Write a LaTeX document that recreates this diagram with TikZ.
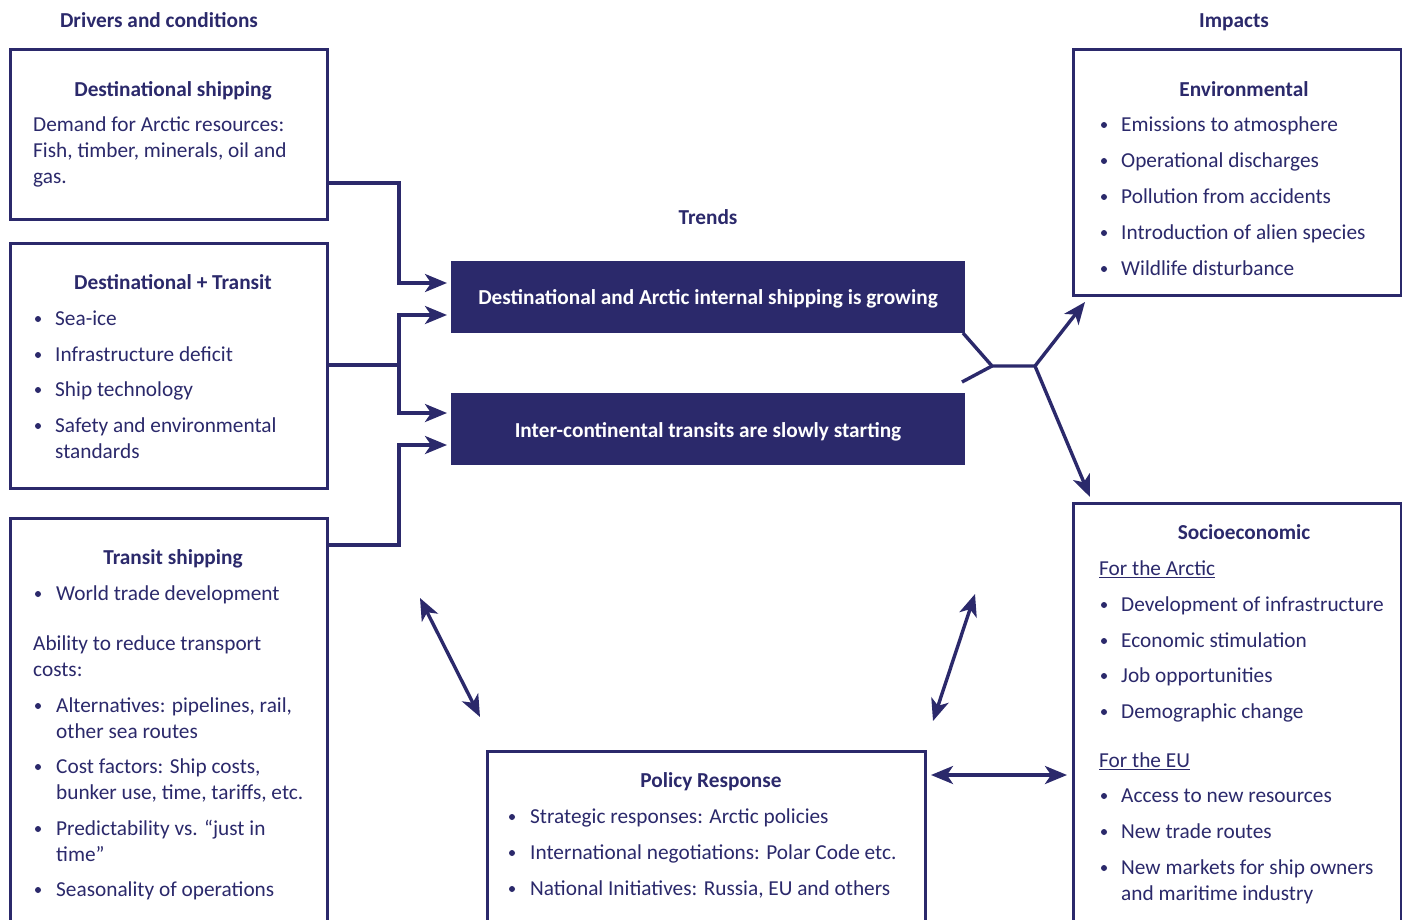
\documentclass[tikz,border=0pt]{standalone}
\usepackage{fontspec}
\setmainfont{Carlito}
\usetikzlibrary{arrows.meta}
\definecolor{navy}{RGB}{43,41,107}
\tikzset{
  txt/.style={anchor=base west, inner sep=0, font=\fontsize{21.3}{25}\selectfont, text=navy},
  ttl/.style={anchor=base, inner sep=0, font=\bfseries\fontsize{21.3}{25}\selectfont, text=navy},
  box/.style={draw=navy, line width=3, fill=white, anchor=north west, inner sep=0, outer sep=0},
  trend/.style={fill=navy, anchor=north west, inner sep=0, outer sep=0, minimum width=514, minimum height=72},
  trendtxt/.style={anchor=base, inner sep=0, text=white, font=\bfseries\fontsize{21.3}{25}\selectfont},
  conn/.style={draw=navy, line width=3.4},
  arr/.style={conn, -{Stealth[length=22pt,width=18pt,inset=6pt]}},
  darr/.style={conn, {Stealth[length=22pt,width=18pt,inset=6pt]}-{Stealth[length=22pt,width=18pt,inset=6pt]}},
}
\newcommand{\myline}[3]{\node[txt] at (#1,#2+7.5) {#3};}
\newcommand{\mybul}[2]{\fill[navy] (#1,#2+1) circle (3);}
\begin{document}
\begin{tikzpicture}[x=1pt,y=-1pt]
\useasboundingbox (0,0) rectangle (1402,920);
\clip (0,0) rectangle (1402,920);

% headers
\node[ttl] (hd) at (159,27.5) {Drivers and conditions};
\node[ttl] (hi) at (1234,27.5) {Impacts};
\node[ttl] (ht) at (708,224.5) {Trends};

% driver boxes
\node[box, minimum width=317, minimum height=169] (b1) at (10,50) {};
\node[ttl] (b1t) at (173,96.5) {Destinational shipping};
\myline{33}{124}{Demand for Arctic resources:}
\myline{33}{150}{Fish, timber, minerals, oil and}
\myline{33}{176}{gas.}

\node[box, minimum width=317, minimum height=245] (b2) at (10,243) {};
\node[ttl] (b2t) at (173,289.5) {Destinational + Transit};
\mybul{38}{318}\myline{55}{318}{Sea-ice}
\mybul{38}{354}\myline{55}{354}{Infrastructure deficit}
\mybul{38}{389}\myline{55}{389}{Ship technology}
\mybul{38}{425}\myline{55}{425}{Safety and environmental}
\myline{55}{451}{standards}

\node[box, minimum width=317, minimum height=450] (b3) at (10,518) {};
\node[ttl] (b3t) at (173,564.5) {Transit shipping};
\mybul{38}{593}\myline{56}{593}{World trade development}
\myline{33}{643}{Ability to reduce transport}
\myline{33}{669}{costs:}
\mybul{38}{705}\myline{56}{705}{Alternatives: pipelines, rail,}
\myline{56}{731}{other sea routes}
\mybul{38}{766}\myline{56}{766}{Cost factors: Ship costs,}
\myline{56}{792}{bunker use, time, tariffs, etc.}
\mybul{38}{828}\myline{56}{828}{Predictability vs. “just in}
\myline{56}{854}{time”}
\mybul{38}{889}\myline{56}{889}{Seasonality of operations}

% trends
\node[trend] (t1) at (451,261) {};
\node[trendtxt] (t1t) at (708,304.5) {Destinational and Arctic internal shipping is growing};
\node[trend] (t2) at (451,393) {};
\node[trendtxt] (t2t) at (708,437.5) {Inter-continental transits are slowly starting};

% impacts
\node[box, minimum width=328, minimum height=245] (e) at (1073,50) {};
\node[ttl] (et) at (1244,96.5) {Environmental};
\mybul{1104}{124}\myline{1121}{124}{Emissions to atmosphere}
\mybul{1104}{160}\myline{1121}{160}{Operational discharges}
\mybul{1104}{196}\myline{1121}{196}{Pollution from accidents}
\mybul{1104}{232}\myline{1121}{232}{Introduction of alien species}
\mybul{1104}{268}\myline{1121}{268}{Wildlife disturbance}

\node[box, minimum width=328, minimum height=450] (s) at (1073,503) {};
\node[ttl] (st) at (1244,539.5) {Socioeconomic};
\myline{1099}{568}{\underline{For the Arctic}}
\mybul{1104}{604}\myline{1121}{604}{Development of infrastructure}
\mybul{1104}{640}\myline{1121}{640}{Economic stimulation}
\mybul{1104}{675}\myline{1121}{675}{Job opportunities}
\mybul{1104}{711}\myline{1121}{711}{Demographic change}
\myline{1099}{760}{\underline{For the EU}}
\mybul{1104}{795}\myline{1121}{795}{Access to new resources}
\mybul{1104}{831}\myline{1121}{831}{New trade routes}
\mybul{1104}{867}\myline{1121}{867}{New markets for ship owners}
\myline{1121}{893}{and maritime industry}

% policy
\node[box, minimum width=438, minimum height=300] (p) at (487,751) {};
\node[ttl] (pt) at (711,787.5) {Policy Response};
\mybul{512}{816}\myline{530}{816}{Strategic responses: Arctic policies}
\mybul{512}{852}\myline{530}{852}{International negotiations: Polar Code etc.}
\mybul{512}{888}\myline{530}{888}{National Initiatives: Russia, EU and others}

% connectors from drivers to trends
\coordinate (y183) at (0,183);
\coordinate (y365) at (0,365);
\coordinate (y545) at (0,545);
\coordinate (y283) at (0,283);
\coordinate (y315) at (0,315);
\coordinate (y413) at (0,413);
\coordinate (y445) at (0,445);
\coordinate (y775) at (0,775);
\draw[arr] (b1.east |- y183) -- (399,183) -- (399,283) -- ([xshift=-4pt]t1.west |- y283);
\draw[conn] (b2.east |- y365) -- (399,365);
\draw[arr] (399,365) -- (399,315) -- ([xshift=-4pt]t1.west |- y315);
\draw[arr] (399,365) -- (399,413) -- ([xshift=-4pt]t2.west |- y413);
\draw[arr] (b3.east |- y545) -- (399,545) -- (399,445) -- ([xshift=-4pt]t2.west |- y445);

% junction to impacts
\coordinate (j1) at (992,366);
\coordinate (j2) at (1035,366);
\coordinate (l2) at (962,382);
\draw[conn] ([xshift=-2pt]t1.south east) -- (j1) -- (j2);
\draw[conn] (l2) -- (j1);
\draw[arr] (j2) -- ([xshift=12pt,yshift=-7pt]e.south west);
\draw[arr] (j2) -- ([xshift=17pt,yshift=6pt]s.north west);

% feedback arrows
\coordinate (a1) at (420,598);
\coordinate (a2) at (480,717);
\coordinate (a3) at (975,594);
\coordinate (a4) at (933,721);
\draw[darr] (a1) -- (a2);
\draw[darr] (a3) -- (a4);
\draw[darr] ([xshift=6pt]p.north east |- y775) -- ([xshift=-6pt]s.west |- y775);
\end{tikzpicture}
\end{document}
